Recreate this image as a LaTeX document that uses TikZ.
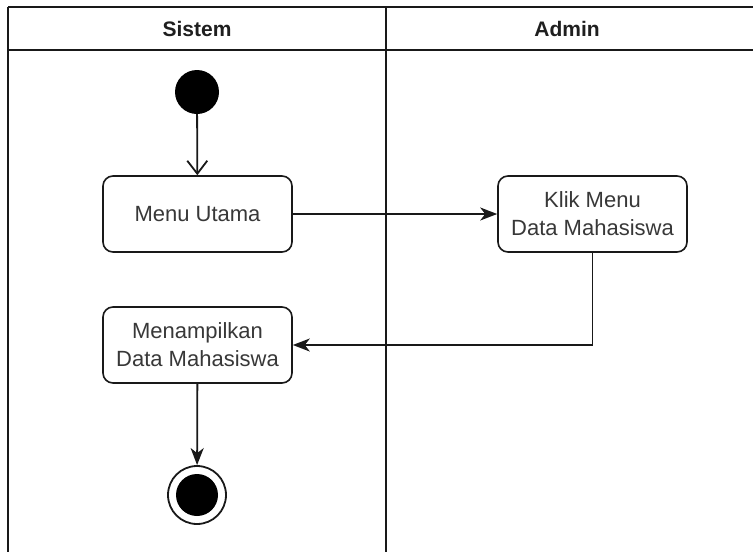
\documentclass[tikz,border=0pt]{standalone}
\usepackage{fontspec}
\setmainfont{Liberation Sans}
\usetikzlibrary{arrows.meta}
\begin{document}
\begin{tikzpicture}[x=1pt,y=-1pt,
  lane/.style={line width=1.8pt,draw=black!90},
  actbox/.style={draw=black!90,line width=1.6pt,rounded corners=10pt,fill=white,
    minimum width=189pt,minimum height=76pt,align=center,text=black!78,
    font=\fontsize{22}{28}\selectfont,inner sep=0pt},
  hdr/.style={font=\bfseries\fontsize{21}{25}\selectfont,text=black!88},
  flow/.style={line width=1.8pt,draw=black!90,-{Stealth[length=17pt,width=13pt,inset=5pt]}},
  openflow/.style={line width=1.8pt,draw=black!90,-{Straight Barb[length=13pt,width=20pt,line width=1.8pt]}},
  startdot/.style={circle,fill=black,minimum size=44pt,inner sep=0pt},
  endring/.style={circle,draw=black!90,line width=1.8pt,fill=white,minimum size=58pt,inner sep=0pt},
  enddot/.style={circle,fill=black,minimum size=42pt,inner sep=0pt}
]
\useasboundingbox (0,0) rectangle (753,552);
\fill[white] (0,0) rectangle (753,552);
% swimlane frame
\coordinate (tl) at (8,7);
\coordinate (tr) at (753,7);
\coordinate (hl) at (8,50);
\coordinate (hr) at (753,50);
\coordinate (bl) at (8,552);
\coordinate (dt) at (386,7);
\coordinate (db) at (386,552);
\draw[lane] (tl) -- (tr);
\draw[lane] (hl) -- (hr);
\draw[lane] (tl) -- (bl);
\draw[lane] (dt) -- (db);
\node[hdr] (hsis) at (197,29) {Sistem};
\node[hdr] (hadm) at (567,29) {Admin};
% nodes
\node[startdot] (start) at (197,92) {};
\node[actbox] (menu) at (197.5,214) {Menu Utama};
\node[actbox] (klik) at (592.5,214) {Klik Menu\\Data Mahasiswa};
\node[actbox] (tampil) at (197.5,345) {Menampilkan\\Data Mahasiswa};
\node[endring] (endo) at (197,495) {};
\node[enddot] (endi) at (197,495) {};
% connectors
\draw[openflow] (start) -- (menu);
\draw[flow] (menu) -- (klik);
\draw[flow] (klik.south) |- (tampil.east);
\draw[flow] (tampil) -- (endo);
\end{tikzpicture}
\end{document}
